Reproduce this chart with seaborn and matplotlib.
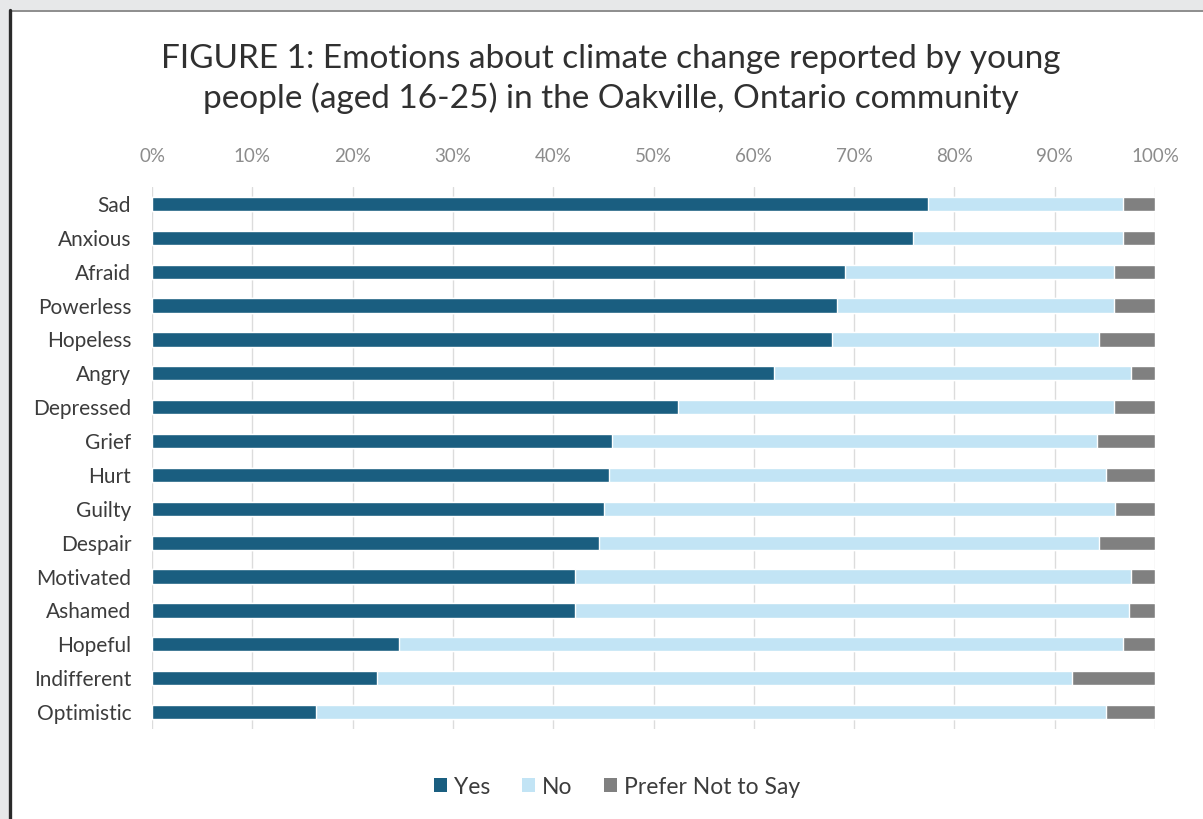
import matplotlib
matplotlib.use("Agg")
import matplotlib.pyplot as plt
from matplotlib.patches import Rectangle, Patch
import numpy as np
import pandas as pd
import seaborn as sns

# Share of respondents (%) per emotion
emotions = ["Sad", "Anxious", "Afraid", "Powerless", "Hopeless", "Angry",
            "Depressed", "Grief", "Hurt", "Guilty", "Despair", "Motivated",
            "Ashamed", "Hopeful", "Indifferent", "Optimistic"]
yes = [77.4, 75.9, 69.1, 68.3, 67.8, 62.0, 52.4, 45.9, 45.6, 45.1, 44.6,
       42.2, 42.2, 24.6, 22.4, 16.4]
no = [19.4, 20.9, 26.8, 27.6, 26.6, 35.6, 43.5, 48.3, 49.5, 50.9, 49.8,
      55.4, 55.2, 72.2, 69.3, 78.7]
prefer = [3.2, 3.2, 4.1, 4.1, 5.6, 2.4, 4.1, 5.8, 4.9, 4.0, 5.6,
          2.4, 2.6, 3.2, 8.3, 4.9]
series = ["Yes", "No", "Prefer Not to Say"]
ticks = [0, 10, 20, 30, 40, 50, 60, 70, 80, 90, 100]

colors = {"Yes": "#1a5e80", "No": "#c2e4f5", "Prefer Not to Say": "#808080"}

df = pd.DataFrame({"emotion": emotions, "Yes": yes, "No": no,
                   "Prefer Not to Say": prefer})
df["yes_no"] = df["Yes"] + df["No"]
df["total"] = df["yes_no"] + df["Prefer Not to Say"]

sns.set_theme(style="white")
plt.rcParams["font.family"] = ["Lato", "DejaVu Sans"]

W, H = 1203, 819
fig = plt.figure(figsize=(W / 100, H / 100), dpi=100)
fig.patch.set_facecolor("#e7e8e9")

# white panel with frame, kept behind the axes
fig.patches.append(Rectangle((10 / W, 0), 1 - 10 / W, 1 - 10 / H,
                             transform=fig.transFigure, facecolor="white",
                             edgecolor="none", zorder=-10))
fig.lines.append(plt.Line2D([10 / W, 1], [1 - 10.5 / H, 1 - 10.5 / H],
                            transform=fig.transFigure, color="#7a7a7a",
                            lw=1.2, zorder=-9))
fig.lines.append(plt.Line2D([9.5 / W, 9.5 / W], [0, 1 - 10 / H],
                            transform=fig.transFigure, color="#2a2a2a",
                            lw=2.4, zorder=-9))

ax = fig.add_axes([152 / W, 1 - 729 / H, (1155 - 152) / W, (729 - 187) / H])
ax.set_facecolor("none")

bw = 0.42
sns.barplot(data=df, x="total", y="emotion", color=colors["Prefer Not to Say"],
            orient="h", width=bw, saturation=1, ax=ax, zorder=3)
sns.barplot(data=df, x="yes_no", y="emotion", color=colors["No"],
            orient="h", width=bw, saturation=1, ax=ax, zorder=3)
sns.barplot(data=df, x="Yes", y="emotion", color=colors["Yes"],
            orient="h", width=bw, saturation=1, ax=ax, zorder=3)

ax.set_xlim(0, 100)
ax.set_ylim(len(emotions) - 0.5, -0.5)
ax.set_xlabel("")
ax.set_ylabel("")
ax.xaxis.tick_top()
ax.set_xticks(ticks)
ax.set_xticklabels([f"{t}%" for t in ticks], color="#8c8c8c", fontsize=13.5)
ax.tick_params(axis="x", length=0, pad=16)
ax.tick_params(axis="y", length=0, pad=15, labelsize=15, labelcolor="#3c3c3c")
ax.grid(axis="x", color="#dcdcdc", lw=1, zorder=0)
ax.grid(axis="y", visible=False)
for s in ax.spines.values():
    s.set_visible(False)

fig.text(0.508, 1 - 79 / H,
         "FIGURE 1: Emotions about climate change reported by young\n"
         "people (aged 16-25) in the Oakville, Ontario community",
         ha="center", va="center", fontsize=24, color="#303030",
         linespacing=1.3)

handles = [Patch(facecolor=colors[s], edgecolor="none", label=s) for s in series]
fig.legend(handles=handles, loc="center", bbox_to_anchor=(0.513, 1 - 787 / H),
           ncol=3, frameon=False, fontsize=16.5, handlelength=0.55,
           handleheight=0.55, handletextpad=0.3, columnspacing=1.4,
           labelcolor="#3c3c3c")

fig.savefig("out.png", dpi=100, facecolor=fig.get_facecolor())
